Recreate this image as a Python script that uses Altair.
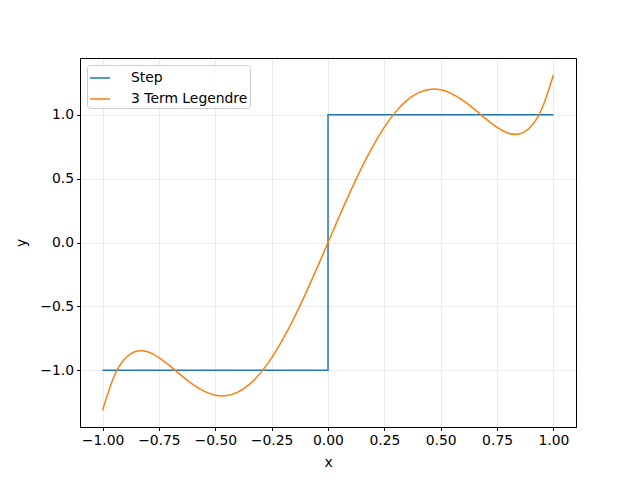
import altair as alt
import pandas as pd

step_x = [-1.0, 0.0, 0.0, 1.0]
step_y = [-1.0, -1.0, 1.0, 1.0]

leg_x = [-1.0, -0.95, -0.9, -0.85, -0.8, -0.75, -0.7, -0.65, -0.6, -0.55, -0.5,
         -0.45, -0.4, -0.35, -0.3, -0.25, -0.2, -0.15, -0.1, -0.05, 0.0,
         0.05, 0.1, 0.15, 0.2, 0.25, 0.3, 0.35, 0.4, 0.45, 0.5,
         0.55, 0.6, 0.65, 0.7, 0.75, 0.8, 0.85, 0.9, 0.95, 1.0]
leg_y = [-1.3125, -1.0527, -0.9083, -0.8508, -0.8553, -0.9003, -0.9674, -1.0414, -1.1101, -1.1635, -1.1946,
         -1.1981, -1.1711, -1.1123, -1.0221, -0.9025, -0.7564, -0.5880, -0.4020, -0.2041, 0.0,
         0.2041, 0.4020, 0.5880, 0.7564, 0.9025, 1.0221, 1.1123, 1.1711, 1.1981, 1.1946,
         1.1635, 1.1101, 1.0414, 0.9674, 0.9003, 0.8553, 0.8508, 0.9083, 1.0527, 1.3125]

series = ["Step", "3 Term Legendre"]
colors = ["#1f77b4", "#ff7f0e"]

df_step = pd.DataFrame({"x": step_x, "y": step_y, "s": series[0], "o": range(len(step_x))})
df_leg = pd.DataFrame({"x": leg_x, "y": leg_y, "s": series[1], "o": range(len(leg_x))})

font = "DejaVu Sans"

xenc = alt.X("x:Q", title="x", scale=alt.Scale(domain=[-1.1, 1.1], nice=False, zero=False),
             axis=alt.Axis(values=[-1.0, -0.75, -0.5, -0.25, 0.0, 0.25, 0.5, 0.75, 1.0], format=".2f"))
yenc = alt.Y("y:Q", title="y", scale=alt.Scale(domain=[-1.44375, 1.44375], nice=False, zero=False),
             axis=alt.Axis(values=[-1.0, -0.5, 0.0, 0.5, 1.0], format=".1f"))
cenc = alt.Color("s:N", scale=alt.Scale(domain=series, range=colors),
                 legend=alt.Legend(title=None, orient="none", legendX=7, legendY=7,
                                   symbolType="stroke", symbolSize=400, symbolStrokeWidth=1.5,
                                   labelFontSize=13.9, labelFont=font, labelColor="#000000",
                                   strokeColor="#cccccc", fillColor="rgba(255,255,255,0.8)",
                                   cornerRadius=3, padding=2, rowPadding=3, labelOffset=20))

step = alt.Chart(df_step).mark_line(strokeWidth=1.5).encode(
    x=xenc, y=yenc, color=cenc, order="o:Q")
leg = alt.Chart(df_leg).mark_line(strokeWidth=1.5, interpolate="natural").encode(
    x=xenc, y=yenc, color=cenc, order="o:Q")

chart = alt.layer(step, leg).properties(
    width=496, height=369,
    autosize=alt.AutoSizeParams(type="none"),
    padding={"left": 72, "top": 50, "right": 56, "bottom": 45},
).configure_view(
    stroke="#000000", strokeWidth=1
).configure_axis(
    domain=True, domainColor="#000000", domainWidth=1,
    tickColor="#000000", tickSize=3.5, tickWidth=1,
    labelFont=font, labelFontSize=13.9, labelColor="#000000", labelPadding=3,
    titleFont=font, titleFontSize=13.9, titleColor="#000000", titleFontWeight="normal",
    grid=True, gridColor="#b0b0b0", gridOpacity=0.3, gridWidth=0.8,
).configure_axisX(titlePadding=8).configure_axisY(titlePadding=11)

chart.save("out.html", embed_options={"renderer": "svg", "actions": False})
